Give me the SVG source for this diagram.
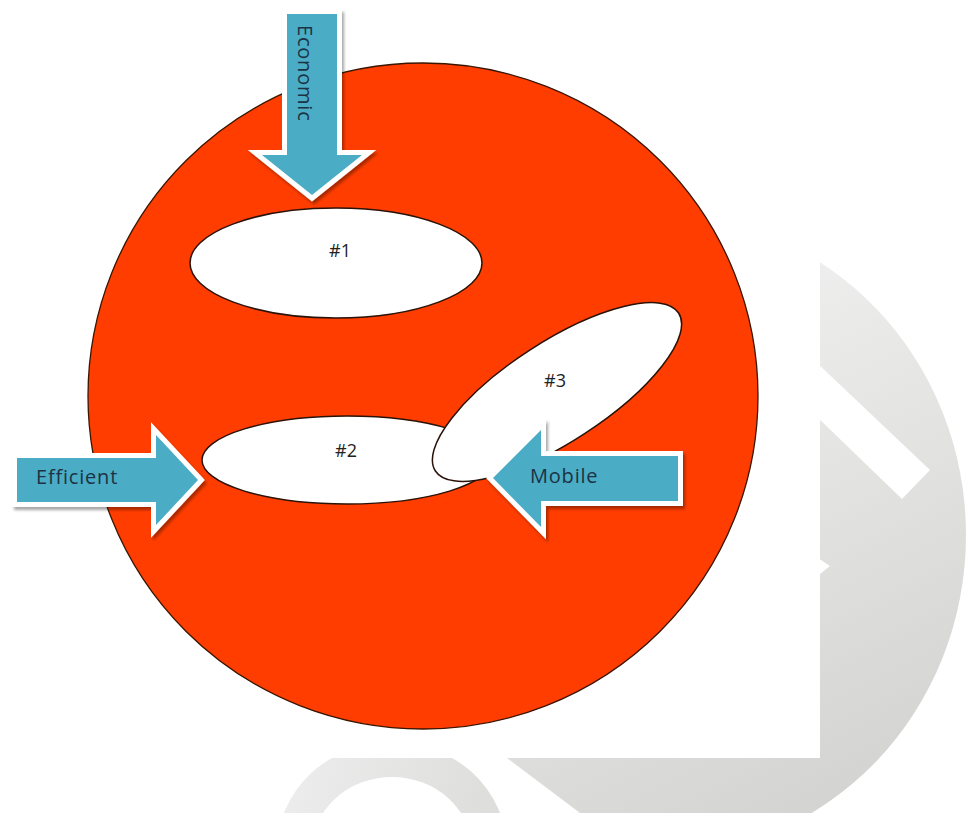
<svg xmlns="http://www.w3.org/2000/svg" width="977" height="813" viewBox="0 0 977 813">
<defs>
<linearGradient id="wm" gradientUnits="userSpaceOnUse" x1="620" y1="250" x2="900" y2="800">
<stop offset="0" stop-color="#f3f3f3"/>
<stop offset="1" stop-color="#d2d2d0"/>
</linearGradient>
<linearGradient id="wm2" gradientUnits="userSpaceOnUse" x1="300" y1="760" x2="480" y2="813">
<stop offset="0" stop-color="#ececec"/>
<stop offset="1" stop-color="#dededd"/>
</linearGradient>
<filter id="sh" x="-20%" y="-20%" width="140%" height="140%">
<feDropShadow dx="2" dy="3" stdDeviation="1.5" flood-color="#000" flood-opacity="0.35"/>
</filter>
<style>
.oval{fill:#fff;stroke:#2a1208;stroke-width:1.5}
.arrow{fill:#4bacc6;stroke:#fff;stroke-width:10;stroke-linejoin:miter;stroke-miterlimit:10;paint-order:stroke;filter:url(#sh)}
.lbl{font-family:"Open Sans","Liberation Sans",sans-serif;font-size:20px;fill:#1b3344;letter-spacing:0.8px}
.num{font-family:"Open Sans","Liberation Sans",sans-serif;font-size:18px;fill:#222;text-anchor:middle}
</style>
</defs>
<rect width="977" height="813" fill="#fff"/>
<g id="watermark">
<ellipse cx="660" cy="535" rx="306" ry="320" fill="url(#wm)"/>
<polygon points="380,758 507,758 580,813 380,813" fill="#fff"/>
<path d="M277,850 a115,108 0 1,1 230,0 a115,108 0 1,1 -230,0 Z M312,850 a80,73 0 1,0 160,0 a80,73 0 1,0 -160,0 Z" fill="url(#wm2)" fill-rule="evenodd"/>
<polygon points="815,361 930,470 902,499 815,415" fill="#fff"/>
<polygon points="815,556 830,566 815,578" fill="#fff"/>
<rect x="0" y="0" width="820" height="758" fill="#fff"/>
</g>
<g id="circle">
<ellipse cx="423" cy="396" rx="335" ry="333" fill="#ff3d00" stroke="#3a1500" stroke-width="1.3"/>
</g>
<g id="oval1">
<ellipse class="oval" cx="336" cy="263" rx="146" ry="55"/>
<text class="num" x="340" y="257">#1</text>
</g>
<g id="oval2">
<ellipse class="oval" cx="347" cy="460" rx="145" ry="44"/>
<text class="num" x="346" y="457">#2</text>
</g>
<g id="oval3">
<ellipse class="oval" cx="557" cy="392" rx="145" ry="50" transform="rotate(-33 557 392)" stroke="#111"/>
<text class="num" x="555" y="387">#3</text>
</g>
<g id="connectors">
<g id="arrow-economic">
<polygon class="arrow" points="287,14 337,14 337,155 362,155 312,195 262,155 287,155"/>
<text class="lbl" transform="translate(298,25) rotate(90)">Economic</text>
</g>
<g id="arrow-efficient">
<polygon class="arrow" points="17,458 156,458 156,435 198,480 156,525 156,502 17,502"/>
<text class="lbl" x="36" y="484">Efficient</text>
</g>
<g id="arrow-mobile">
<polygon class="arrow" points="678,456 541,456 541,430 493,478 541,527 541,501 678,501"/>
<text class="lbl" x="530" y="483">Mobile</text>
</g>
</g>
</svg>
